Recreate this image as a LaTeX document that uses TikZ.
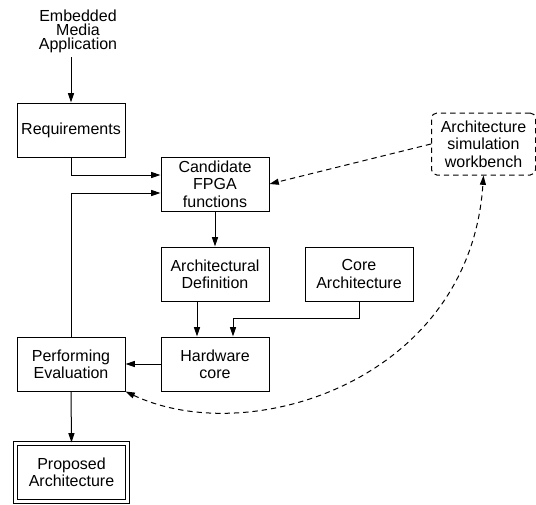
\documentclass[tikz,border=0pt]{standalone}
\usepackage{fontspec}
\setmainfont{Liberation Sans}
\usetikzlibrary{arrows.meta}

\tikzset{
  block/.style={draw, line width=0.75pt, minimum width=81pt, minimum height=40.5pt,
    align=center, inner sep=1pt, font=\fontsize{12}{13}\selectfont},
  arr/.style={-{Triangle[length=7pt,width=4.5pt]}, line width=0.75pt},
  dasharr/.style={arr, dash pattern=on 4pt off 3pt},
}

\begin{document}
\begin{tikzpicture}[x=0.75pt, y=-0.75pt]
    \useasboundingbox (0, 0) rectangle (536, 504);

    % Input and blocks
    \node[align=center, font=\fontsize{12}{10.5}\selectfont] (emb) at (78, 31) {Embedded\\Media\\Application};
    \node[block] (req) at (71, 130) {Requirements};
    \node[block] (cand) at (215, 184) {Candidate\\FPGA\\functions};
    \node[block] (adef) at (215, 274) {Architectural\\Definition};
    \node[block] (core) at (359, 274) {Core\\Architecture};
    \node[block] (hw) at (215, 364) {Hardware\\core};
    \node[block] (pe) at (71, 364) {Performing\\Evaluation};
    \node[block, double, double distance=2.25pt, minimum width=84.4pt, minimum height=43.5pt] (prop) at (71.5, 472) {Proposed\\Architecture};

    % Simulation workbench
    \node[block, rounded corners=4pt, dash pattern=on 4pt off 3pt, minimum width=78pt, minimum height=46.5pt] (wb) at (483.5, 144) {Architecture\\simulation\\workbench};

    % Flow
    \draw[arr] (req.north |- emb.south) -- (req.north);
    \draw[arr] (req.south) |- ([yshift=6.75pt]cand.west);
    \draw[arr] (pe.north) |- ([yshift=-6.75pt]cand.west);
    \draw[arr] (cand.south) -- (adef.north);
    \draw[arr] ([xshift=-13.5pt]adef.south) -- ([xshift=-13.5pt]hw.north);
    \draw[arr] (core.south) -- ++(0, 17) -| ([xshift=13.5pt]hw.north);
    \draw[arr] (hw.west) -- (pe.east);
    \draw[arr] (pe.south) -- (prop.north);

    % Simulation links
    \draw[dasharr] (wb.west) -- (cand.east);
    \draw[dasharr, {Triangle[length=7pt,width=4.5pt]}-{Triangle[length=7pt,width=4.5pt]}] (pe.south east) .. controls (250, 450) and (470, 380) .. (wb.south);
\end{tikzpicture}
\end{document}
